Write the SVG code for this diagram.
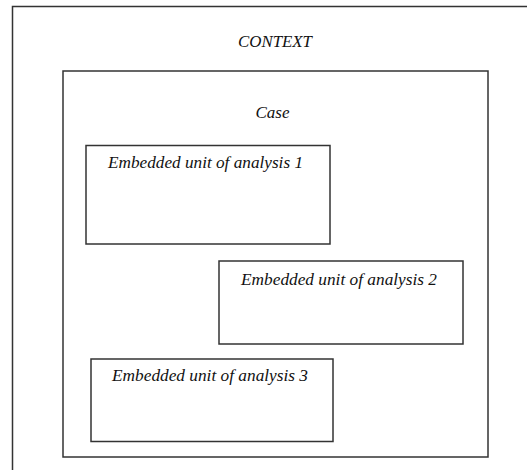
<svg xmlns="http://www.w3.org/2000/svg" width="527" height="470" viewBox="0 0 527 470">
<style>
.box{fill:#fff;stroke:#333;stroke-width:1.5}
.t{font-family:"Liberation Serif","Times New Roman",serif;font-style:italic;fill:#111;text-anchor:middle}
.big{font-size:17px}
.small{font-size:16.5px}
</style>
<rect width="527" height="470" fill="#fff"/>
<g id="context">
<rect class="box" x="12.5" y="6.5" width="530" height="480"/>
<text class="t big" x="275" y="47" textLength="74" lengthAdjust="spacingAndGlyphs">CONTEXT</text>
</g>
<g id="case">
<rect class="box" x="63" y="71" width="425" height="386"/>
<text class="t big" x="272.5" y="118">Case</text>
</g>
<g id="unit1">
<rect class="box" x="86" y="145.5" width="244" height="98.5"/>
<text class="t small" x="205.5" y="168" textLength="195" lengthAdjust="spacingAndGlyphs">Embedded unit of analysis 1</text>
</g>
<g id="unit2">
<rect class="box" x="219" y="261" width="244" height="83"/>
<text class="t small" x="339" y="284.5" textLength="196" lengthAdjust="spacingAndGlyphs">Embedded unit of analysis 2</text>
</g>
<g id="unit3">
<rect class="box" x="91" y="359" width="242" height="82.5"/>
<text class="t small" x="210" y="381" textLength="196" lengthAdjust="spacingAndGlyphs">Embedded unit of analysis 3</text>
</g>
<g id="connectors"/>
</svg>
